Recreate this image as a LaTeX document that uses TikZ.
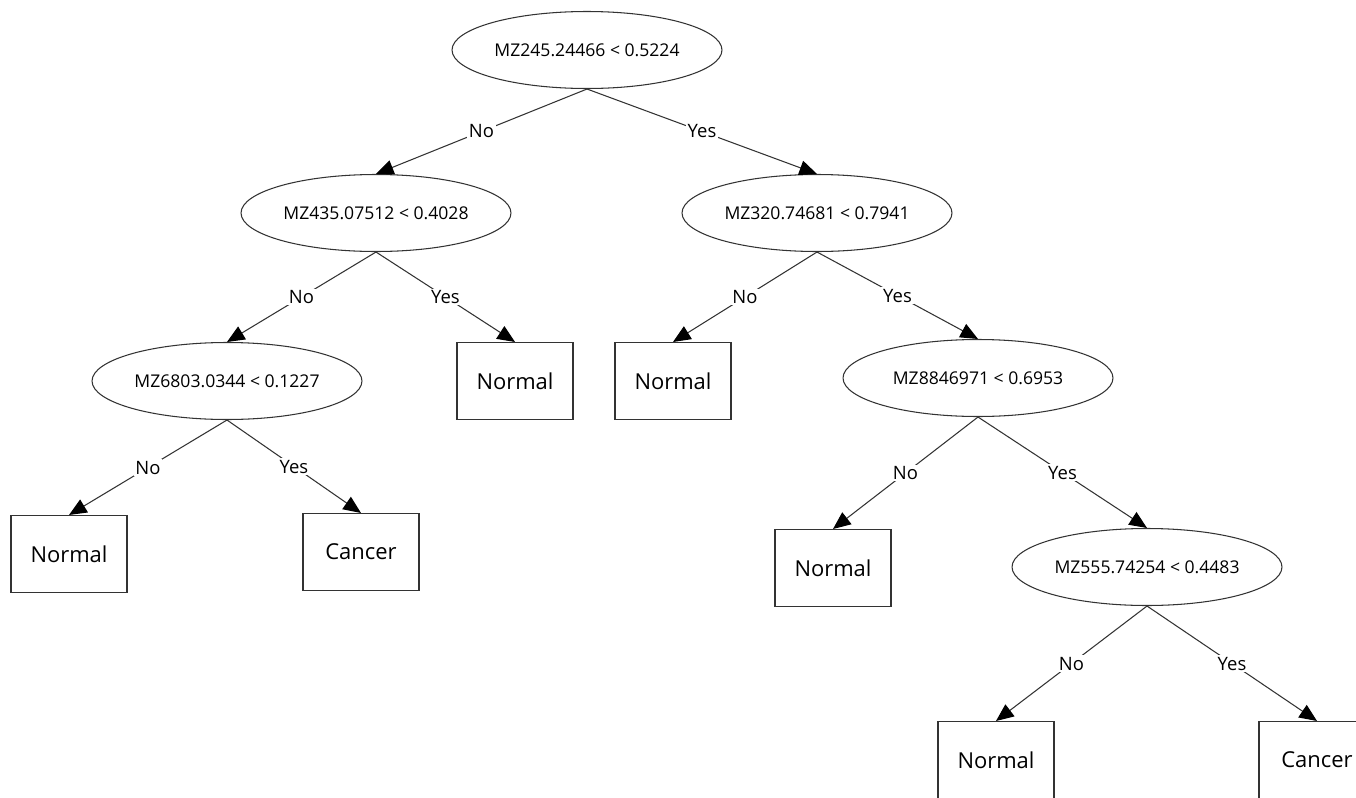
\documentclass[tikz,border=0pt]{standalone}
\usepackage{fontspec}
\setmainfont{Open Sans}
\usetikzlibrary{shapes.geometric}
\usetikzlibrary{arrows.meta}

\begin{document}
\begin{tikzpicture}[x=0.02cm, y=-0.02cm, >={Triangle[length=10pt, width=8.5pt, color=black]},
    split/.style={draw=black!80, ellipse, line width=0.6pt, minimum width=5.4cm, minimum height=1.54cm, inner sep=0pt, font=\fontsize{10}{12}\selectfont},
    leaf/.style={draw=black!80, rectangle, line width=0.6pt, minimum width=2.32cm, minimum height=1.54cm, font=\fontsize{12.5}{15}\selectfont},
    branch/.style={->, draw=black!80, line width=0.6pt},
    ans/.style={fill=white, inner sep=1pt, font=\fontsize{10.5}{12}\selectfont}]

    % Frame
    \useasboundingbox (0,0) rectangle (1356,798);

    % Split nodes
    \node[split] (root) at (587,50) {MZ245.24466 < 0.5224};
    \node[split] (left) at (376,213) {MZ435.07512 < 0.4028};
    \node[split] (right) at (817,213) {MZ320.74681 < 0.7941};
    \node[split] (leftleft) at (227,381) {MZ6803.0344 < 0.1227};
    \node[split] (rightright) at (978,378) {MZ8846971 < 0.6953};
    \node[split] (deep) at (1147,567) {MZ555.74254 < 0.4483};

    % Leaves
    \node[leaf] (leafA) at (515,381) {Normal};
    \node[leaf] (leafB) at (673,381) {Normal};
    \node[leaf] (leafC) at (69,554) {Normal};
    \node[leaf] (leafD) at (361,552) {Cancer};
    \node[leaf] (leafE) at (833,568) {Normal};
    \node[leaf] (leafF) at (996,760) {Normal};
    \node[leaf] (leafG) at (1317,760) {Cancer};

    % Branches
    \draw[branch] (root.south) -- node[ans] {No} (left.north);
    \draw[branch] (root.south) -- node[ans] {Yes} (right.north);
    \draw[branch] (left.south) -- node[ans] {No} (leftleft.north);
    \draw[branch] (left.south) -- node[ans] {Yes} (leafA.north);
    \draw[branch] (right.south) -- node[ans] {No} (leafB.north);
    \draw[branch] (right.south) -- node[ans] {Yes} (rightright.north);
    \draw[branch] (leftleft.south) -- node[ans] {No} (leafC.north);
    \draw[branch] (leftleft.south) -- node[ans] {Yes} (leafD.north);
    \draw[branch] (rightright.south) -- node[ans] {No} (leafE.north);
    \draw[branch] (rightright.south) -- node[ans] {Yes} (deep.north);
    \draw[branch] (deep.south) -- node[ans] {No} (leafF.north);
    \draw[branch] (deep.south) -- node[ans] {Yes} (leafG.north);

\end{tikzpicture}
\end{document}
